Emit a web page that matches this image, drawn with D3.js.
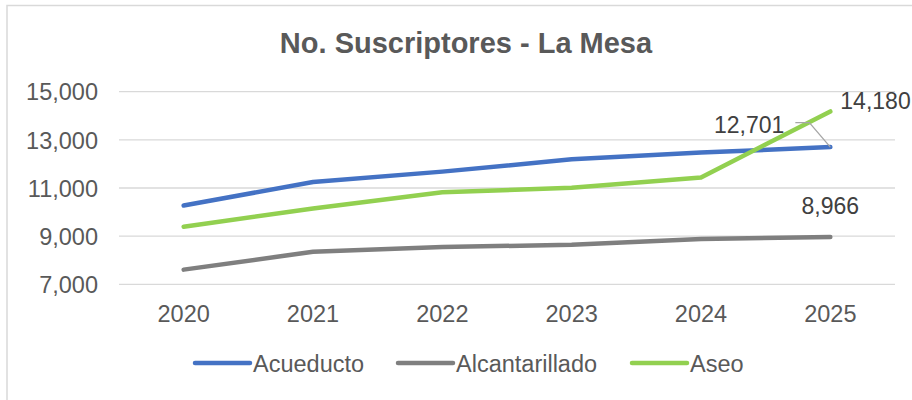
<!DOCTYPE html>
<html>
<head>
<meta charset="utf-8">
<script src="https://cdn.jsdelivr.net/npm/d3@7"></script>
<style>
  body { margin: 0; background: #fff; }
  svg { display: block; font-family: "Liberation Sans", Arial, sans-serif; }
</style>
</head>
<body>
<svg width="912" height="400"></svg>
<script>
    var years = ["2020", "2021", "2022", "2023", "2024", "2025"];
    var acueducto = [10270, 11250, 11680, 12190, 12470, 12701];
    var alcantarillado = [7610, 8350, 8550, 8640, 8880, 8966];
    var aseo = [9390, 10150, 10820, 11010, 11440, 14180];
    var yTicks = [7000, 9000, 11000, 13000, 15000];

    var series = [
        { name: "Acueducto", values: acueducto, color: "#4472C4" },
        { name: "Alcantarillado", values: alcantarillado, color: "#7F7F7F" },
        { name: "Aseo", values: aseo, color: "#92D050" }
    ];

    var svg = d3.select("svg"),
        width = +svg.attr("width"),
        height = +svg.attr("height");

    var textColor = "#595959";
    var fmt = d3.format(",");

    // chart frame
    svg.append("rect")
        .attr("x", 7).attr("y", 5.5)
        .attr("width", 1000).attr("height", 1000)
        .attr("fill", "none")
        .attr("stroke", "#d9d9d9")
        .attr("stroke-width", 1.5);

    svg.append("text")
        .attr("x", 466).attr("y", 53)
        .attr("text-anchor", "middle")
        .attr("fill", textColor)
        .style("font-size", "29px")
        .style("font-weight", "bold")
        .text("No. Suscriptores - La Mesa");

    var x = d3.scaleBand().domain(years).range([119, 895]);
    var y = d3.scaleLinear().domain([7000, 15000]).range([284.3, 91.7]);
    var cx = function (d) { return x(d) + x.bandwidth() / 2; };

    // gridlines
    svg.append("g")
        .selectAll("line")
        .data(yTicks)
        .enter()
            .append("line")
            .attr("x1", 119).attr("x2", 895)
            .attr("y1", function (d) { return y(d); })
            .attr("y2", function (d) { return y(d); })
            .attr("stroke", "#d9d9d9")
            .attr("stroke-width", 1.3);

    // y labels
    svg.append("g")
        .selectAll("text")
        .data(yTicks)
        .enter()
            .append("text")
            .attr("x", 98)
            .attr("y", function (d) { return y(d) + 8.7; })
            .attr("text-anchor", "end")
            .attr("fill", textColor)
            .style("font-size", "23.5px")
            .text(fmt);

    // x labels
    svg.append("g")
        .selectAll("text")
        .data(years)
        .enter()
            .append("text")
            .attr("x", cx)
            .attr("y", 322)
            .attr("text-anchor", "middle")
            .attr("fill", textColor)
            .style("font-size", "23.5px")
            .text(function (d) { return d; });

    var line = d3.line()
        .x(function (d, i) { return cx(years[i]); })
        .y(function (d) { return y(d); });

    svg.append("g")
        .selectAll("path")
        .data(series)
        .enter()
            .append("path")
            .attr("d", function (d) { return line(d.values); })
            .attr("fill", "none")
            .attr("stroke", function (d) { return d.color; })
            .attr("stroke-width", 4.5)
            .attr("stroke-linecap", "round")
            .attr("stroke-linejoin", "round");

    // data labels for last year
    var lastX = cx(years[5]);
    var yA = y(acueducto[5]);

    svg.append("path")
        .attr("d", "M" + (lastX - 35) + "," + (yA - 24.5) + "H" + (lastX - 21) + "L" + lastX + "," + yA)
        .attr("fill", "none")
        .attr("stroke", "#a6a6a6")
        .attr("stroke-width", 1.3);

    var labels = [
        { v: acueducto[5], x: lastX - 46, y: yA - 14.5, anchor: "end" },
        { v: alcantarillado[5], x: lastX, y: y(alcantarillado[5]) - 23, anchor: "middle" },
        { v: aseo[5], x: lastX + 10, y: y(aseo[5]) - 2, anchor: "start" }
    ];

    svg.append("g")
        .selectAll("text")
        .data(labels)
        .enter()
            .append("text")
            .attr("x", function (d) { return d.x; })
            .attr("y", function (d) { return d.y; })
            .attr("text-anchor", function (d) { return d.anchor; })
            .attr("fill", "#404040")
            .style("font-size", "23px")
            .text(function (d) { return fmt(d.v); });

    // legend
    var legendX = [195, 398, 632];
    var legend = svg.append("g")
        .selectAll("g")
        .data(series)
        .enter()
            .append("g")
            .attr("transform", function (d, i) { return "translate(" + legendX[i] + ",363)"; });

    legend.append("line")
        .attr("x1", 0).attr("x2", 55)
        .attr("stroke", function (d) { return d.color; })
        .attr("stroke-width", 4.5)
        .attr("stroke-linecap", "round");

    legend.append("text")
        .attr("x", 58).attr("y", 9)
        .attr("fill", textColor)
        .style("font-size", "23.5px")
        .text(function (d) { return d.name; });
</script>
</body>
</html>
